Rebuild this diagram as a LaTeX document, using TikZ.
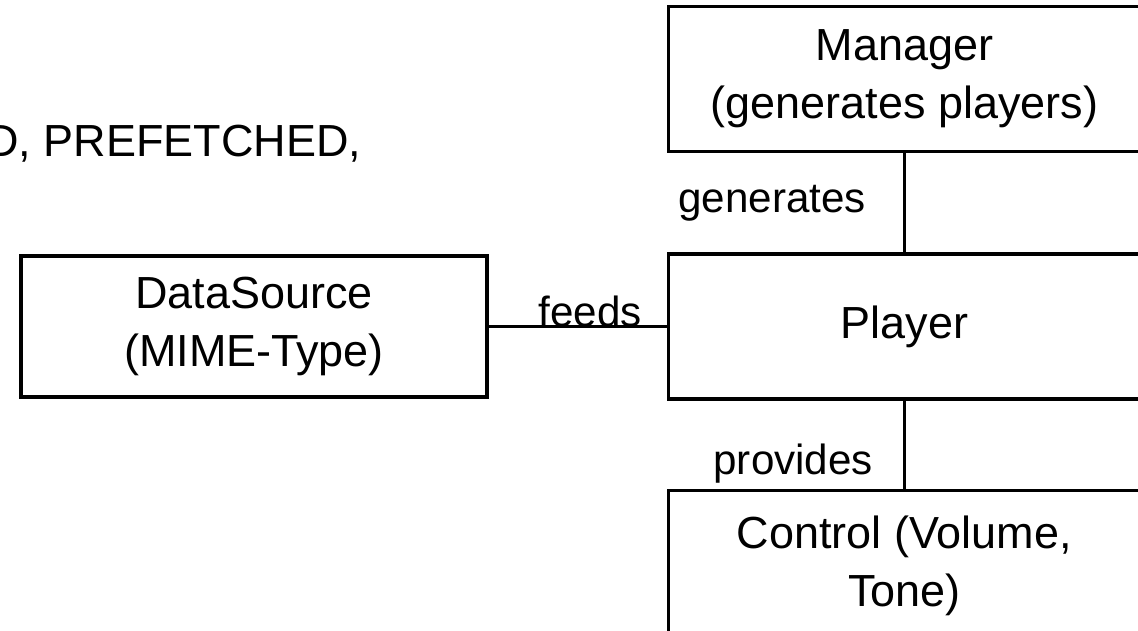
\documentclass[tikz,border=0pt]{standalone}
\usepackage{fontspec}
\setmainfont{Liberation Sans}
\usetikzlibrary{positioning}

\begin{document}
\begin{tikzpicture}[
    x=0.02cm, y=-0.02cm,
    % Define node styles
    block/.style={
        rectangle,
        draw,
        line width=2pt,
        minimum width=9.44cm,
        minimum height=2.9cm,
        align=center,
        font=\fontsize{25.6}{33}\selectfont,
        inner sep=0pt
    },
    tag/.style={
        font=\fontsize{24}{29}\selectfont,
        inner sep=0pt
    },
    link/.style={draw, line width=1.7pt}
]
    % Picture frame (pixels of the reference)
    \useasboundingbox (0,0) rectangle (1138,631);

    % Text cut at the left border
    \node[block, draw=none, anchor=base east, minimum width=0pt, minimum height=0pt] (state) at (363,157) {D, PREFETCHED,};

    % Left box
    \node[block, minimum width=9.32cm, minimum height=2.82cm] (source) at (254,326.5) {DataSource\\(MIME-Type)};

    % Right column
    \node[block, right=3.56cm of source] (player) {Player};
    \node[block, above=1.98cm of player] (manager) {Manager\\(generates players)};
    \node[block, below=1.76cm of player, minimum height=3cm] (control) {Control (Volume,\\Tone)};

    % Connectors with their labels
    \draw[link] (source) -- (player) node[tag, pos=0.57, anchor=base] {feeds};
    \draw[link] (manager) -- (player) node[tag, midway, left=0.74cm] {generates};
    \draw[link] (player) -- (control) node[tag, pos=0.72, left=0.6cm] {provides};
\end{tikzpicture}
\end{document}
